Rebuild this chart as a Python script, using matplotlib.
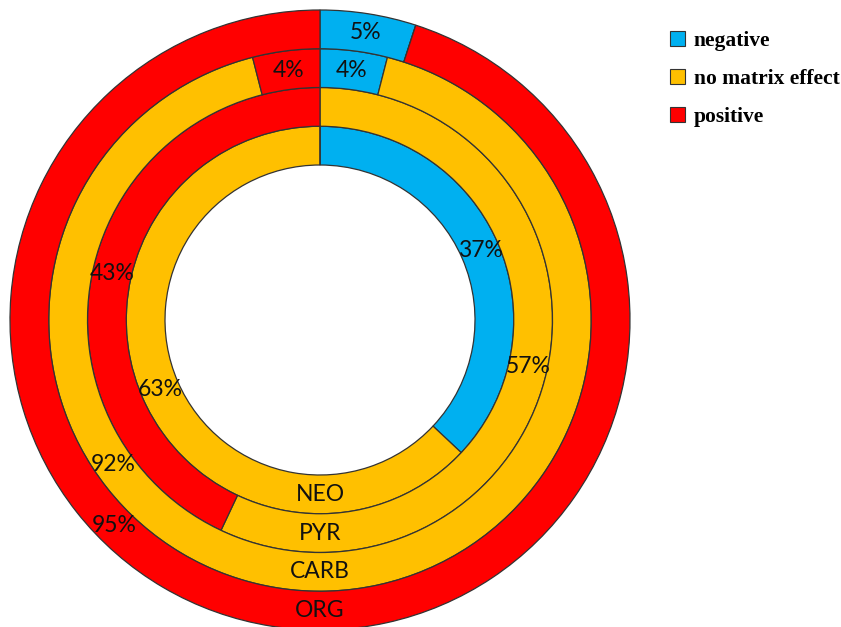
import numpy as np
import matplotlib.pyplot as plt
from matplotlib.patches import Patch

# rings from the inside out
rings = ["NEO", "PYR", "CARB", "ORG"]
categories = ["negative", "no matrix effect", "positive"]
negative = [37, 0, 4, 5]
no_effect = [63, 57, 92, 0]
positive = [0, 43, 4, 95]

colors = ["#00B0F0", "#FFC000", "#FF0000"]

# label angle overrides (degrees clockwise from top) for crowded slices
label_angle = {("CARB", 1): 235, ("ORG", 2): 225}

width = 0.125
radii = [0.625, 0.75, 0.875, 1.0]

fig = plt.figure(figsize=(8.41, 6.27), dpi=100)
ax = fig.add_axes([0, 0, 1, 1])

pct_font = dict(family=["Lato", "DejaVu Sans"], fontsize=16.5, color="#111111",
                ha="center", va="center")

for i, name in enumerate(rings):
    vals = [negative[i], no_effect[i], positive[i]]
    r = radii[i]
    ax.pie(vals, radius=r, colors=colors, startangle=90, counterclock=False,
           wedgeprops=dict(width=width, edgecolor="#333333", linewidth=0.9))
    rm = r - width / 2
    start = 0
    for j, v in enumerate(vals):
        if v > 0:
            ang = label_angle.get((name, j), (start + v / 2) * 3.6)
            th = np.deg2rad(ang)
            ax.text(rm * np.sin(th), rm * np.cos(th), f"{v}%", **pct_font)
        start += v
    # ring name at the bottom
    ax.text(0, -rm, name, **pct_font)

# 310 px per unit, centre at (320, 320) from the top-left
ax.set_xlim(-320 / 310, (841 - 320) / 310)
ax.set_ylim((320 - 627) / 310, 320 / 310)
ax.set_axis_off()

handles = [Patch(facecolor=c, edgecolor="#333333", linewidth=0.8) for c in colors]
leg = fig.legend(handles, categories, loc="upper left", bbox_to_anchor=(0.797, 0.951),
                 frameon=False, borderpad=0, borderaxespad=0,
                 handlelength=0.7, handleheight=0.7,
                 handletextpad=0.4, labelspacing=0.83,
                 prop=dict(family="Liberation Serif", weight="bold", size=15.5))

fig.savefig("out.png", dpi=100)
